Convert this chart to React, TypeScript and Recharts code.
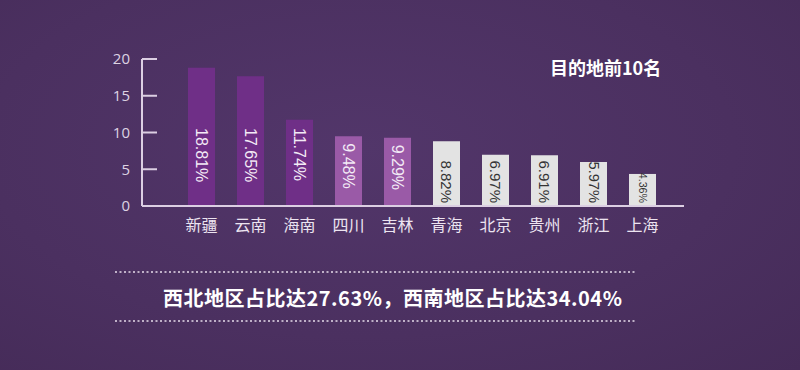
import { BarChart, Bar, XAxis, YAxis, Cell, LabelList } from "recharts"

// top 10 destinations, share in %
const provinces = ["新疆", "云南", "海南", "四川", "吉林", "青海", "北京", "贵州", "浙江", "上海"]
const shares = [18.81, 17.65, 11.74, 9.48, 9.29, 8.82, 6.97, 6.91, 5.97, 4.36]
const yTicks = [0, 5, 10, 15, 20]
const title = "目的地前10名"
const summary = "西北地区占比达27.63%，西南地区占比达34.04%"

const DARK = "#6f2f87"
const MID = "#9a5aa7"
const LIGHT = "#e3e3e3"

const barColor = (i: number) => (i < 3 ? DARK : i < 5 ? MID : LIGHT)

const data = provinces.map((name, i) => ({ name, value: shares[i] }))

const LABEL_FONT = "'Liberation Sans', Arial, sans-serif"

// vertical percentage label inside each bar
const BarLabel = (props: any) => {
  const { x, y, width, height, value, index } = props
  const cx = x + width / 2
  const bottom = y + height
  const light = index >= 5
  const text = `${value.toFixed(2)}%`
  if (light) {
    const fontSize = Math.min(15, height / 3)
    const ty = bottom - 3
    return (
      <text
        x={cx}
        y={ty}
        transform={`rotate(90 ${cx} ${ty})`}
        textAnchor="end"
        dominantBaseline="central"
        fill="#333"
        fontSize={fontSize}
        fontFamily={LABEL_FONT}
      >
        {text}
      </text>
    )
  }
  const ty = Math.max(y + 7, bottom - 78)
  return (
    <text
      x={cx}
      y={ty}
      transform={`rotate(90 ${cx} ${ty})`}
      textAnchor="start"
      dominantBaseline="central"
      fill="#f3eaf6"
      fontSize={16}
      fontFamily={LABEL_FONT}
    >
      {text}
    </text>
  )
}

export default function App() {
  return (
    <div
      style={{
        position: "absolute",
        left: 0,
        top: 0,
        width: 800,
        height: 370,
        overflow: "hidden",
        background: "radial-gradient(ellipse at 45% 40%, #52366a 0%, #4b3060 60%, #452b58 100%)",
        fontFamily: "'Noto Sans CJK SC', 'Noto Sans', sans-serif",
      }}
    >
      <BarChart
        width={800}
        height={370}
        data={data}
        margin={{ top: 59, right: 116, left: 0, bottom: 0 }}
        style={{ position: "absolute", left: 0, top: 0 }}
      >
        <XAxis
          dataKey="name"
          height={164}
          padding={{ left: 35, right: 17 }}
          axisLine={{ stroke: "#dccfe3", strokeWidth: 2 }}
          tickLine={false}
          tickMargin={8}
          interval={0}
          tick={{ fill: "#ece4f0", fontSize: 16, fontFamily: "'Noto Sans CJK SC', sans-serif" }}
        />
        <YAxis
          width={142}
          domain={[0, 20]}
          ticks={yTicks}
          axisLine={{ stroke: "#dccfe3", strokeWidth: 2 }}
          tickLine={{ stroke: "#dccfe3", strokeWidth: 2 }}
          tickSize={-15}
          tickMargin={27}
          tick={{ fill: "#ddd3e3", fontSize: 15, fontFamily: "'Open Sans', sans-serif" }}
        />
        <Bar dataKey="value" barSize={27} isAnimationActive={false}>
          {data.map((_, i) => (
            <Cell key={i} fill={barColor(i)} />
          ))}
          <LabelList dataKey="value" content={<BarLabel />} />
        </Bar>
      </BarChart>

      <div
        style={{
          position: "absolute",
          left: 550,
          top: 56,
          color: "#ffffff",
          fontSize: 18,
          fontWeight: 700,
          whiteSpace: "nowrap",
          lineHeight: "22px",
        }}
      >
        {title}
      </div>

      <svg width={800} height={370} style={{ position: "absolute", left: 0, top: 0, pointerEvents: "none" }}>
        <line x1={115} x2={637} y1={272} y2={272} stroke="#e6dcea" strokeWidth={1.5} strokeDasharray="2 2.5" />
        <line x1={115} x2={637} y1={321} y2={321} stroke="#e6dcea" strokeWidth={1.5} strokeDasharray="2 2.5" />
      </svg>

      <div
        style={{
          position: "absolute",
          left: 163,
          top: 284,
          color: "#ffffff",
          fontSize: 20,
          fontWeight: 700,
          letterSpacing: 0.5,
          whiteSpace: "nowrap",
          lineHeight: "28px",
        }}
      >
        {summary}
      </div>
    </div>
  )
}
